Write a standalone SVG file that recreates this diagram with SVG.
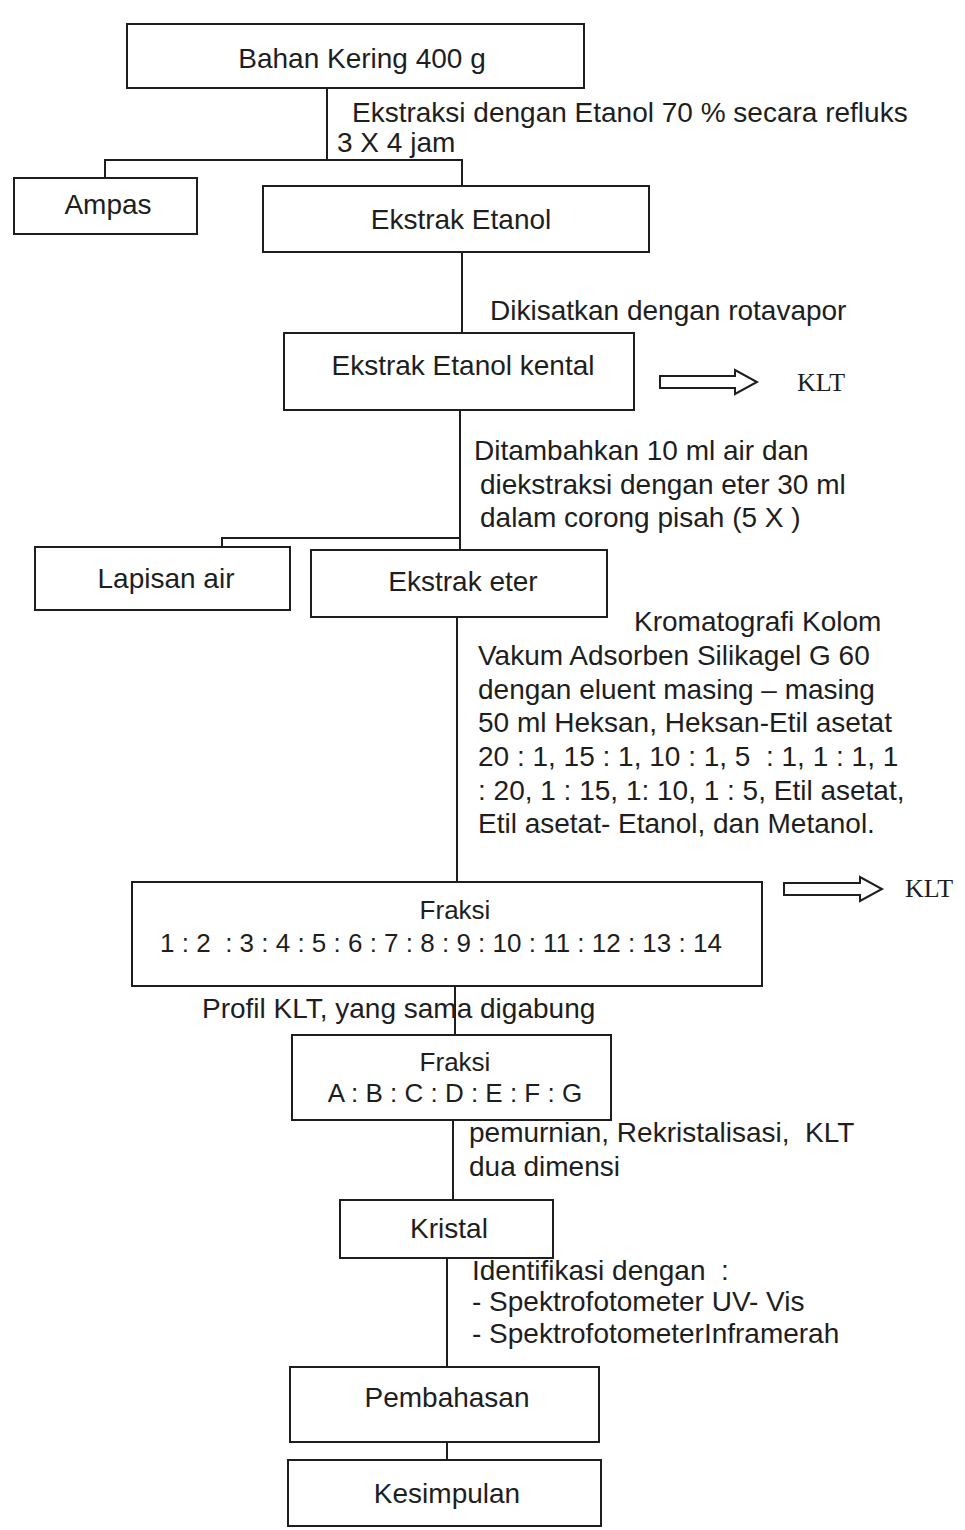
<svg xmlns="http://www.w3.org/2000/svg" width="965" height="1530" viewBox="0 0 965 1530">
<style>
.box{fill:#fff;stroke:#1e1e1e;stroke-width:2}
.ln{fill:none;stroke:#1e1e1e;stroke-width:2}
.arr{fill:#fff;stroke:#1e1e1e;stroke-width:2;stroke-linejoin:miter}
text{font-family:"Liberation Sans",Arial,sans-serif;font-size:28px;fill:#1e1e1e;white-space:pre}
.c{text-anchor:middle}
.s{font-size:26px}
.klt{font-family:"Liberation Serif","Times New Roman",serif;font-size:26px}
</style>
<rect width="965" height="1530" fill="#fff"/>
<g id="connectors">
<polyline class="ln" points="327,88 327,160"/>
<polyline class="ln" points="105,178 105,160 462,160 462,186"/>
<polyline class="ln" points="462,252 462,333"/>
<polyline class="ln" points="460,410 460,550"/>
<polyline class="ln" points="222,547 222,538 460,538"/>
<polyline class="ln" points="457,617 457,882"/>
<polyline class="ln" points="455,986 455,1035"/>
<polyline class="ln" points="453,1120 453,1200"/>
<polyline class="ln" points="447,1258 447,1367"/>
<polyline class="ln" points="447,1442 447,1460"/>
<path class="arr" d="M660,376 L735,376 L735,370 L757,382 L735,394 L735,388 L660,388 Z"/>
<path class="arr" d="M784,883 L860,883 L860,877 L882,889 L860,901 L860,895 L784,895 Z"/>
</g>
<g id="labels">
<text x="352" y="122">Ekstraksi dengan Etanol 70 % secara refluks</text>
<text x="337" y="152">3 X 4 jam</text>
<text x="490" y="320">Dikisatkan dengan rotavapor</text>
<text class="klt" x="797" y="391">KLT</text>
<text x="474" y="460">Ditambahkan 10 ml air dan</text>
<text x="480" y="494">diekstraksi dengan eter 30 ml</text>
<text x="480" y="527">dalam corong pisah (5 X )</text>
<text x="634" y="631">Kromatografi Kolom</text>
<text x="478" y="665">Vakum Adsorben Silikagel G 60</text>
<text x="478" y="699">dengan eluent masing – masing</text>
<text x="478" y="732">50 ml Heksan, Heksan-Etil asetat</text>
<text x="478" y="766" xml:space="preserve">20 : 1, 15 : 1, 10 : 1, 5  : 1, 1 : 1, 1</text>
<text x="478" y="800">: 20, 1 : 15, 1: 10, 1 : 5, Etil asetat,</text>
<text x="478" y="833">Etil asetat- Etanol, dan Metanol.</text>
<text class="klt" x="905" y="897">KLT</text>
<text x="202" y="1018">Profil KLT, yang sama digabung</text>
<text x="469" y="1142" xml:space="preserve">pemurnian, Rekristalisasi,  KLT</text>
<text x="469" y="1176">dua dimensi</text>
<text x="472" y="1280" xml:space="preserve">Identifikasi dengan  :</text>
<text x="472" y="1311">- Spektrofotometer UV- Vis</text>
<text x="472" y="1343">- SpektrofotometerInframerah</text>
</g>
<g id="bahan-kering"><rect class="box" x="127" y="24" width="457" height="64"/><text class="c" x="362" y="68">Bahan Kering 400 g</text></g>
<g id="ampas"><rect class="box" x="14" y="178" width="183" height="56"/><text class="c" x="108" y="214">Ampas</text></g>
<g id="ekstrak-etanol"><rect class="box" x="263" y="186" width="386" height="66"/><text class="c" x="461" y="229">Ekstrak Etanol</text></g>
<g id="ekstrak-etanol-kental"><rect class="box" x="284" y="333" width="350" height="77"/><text class="c" x="463" y="375">Ekstrak Etanol kental</text></g>
<g id="lapisan-air"><rect class="box" x="35" y="547" width="255" height="63"/><text class="c" x="166" y="588">Lapisan air</text></g>
<g id="ekstrak-eter"><rect class="box" x="311" y="550" width="296" height="67"/><text class="c" x="463" y="591">Ekstrak eter</text></g>
<g id="fraksi-1-14"><rect class="box" x="132" y="882" width="630" height="104"/><text class="c s" x="455" y="919">Fraksi</text><text class="c s" x="441" y="952" xml:space="preserve">1 : 2  : 3 : 4 : 5 : 6 : 7 : 8 : 9 : 10 : 11 : 12 : 13 : 14</text></g>
<g id="fraksi-a-g"><rect class="box" x="292" y="1035" width="319" height="85"/><text class="c s" x="455" y="1071">Fraksi</text><text class="c s" x="455" y="1102">A : B : C : D : E : F : G</text></g>
<g id="kristal"><rect class="box" x="340" y="1200" width="213" height="58"/><text class="c" x="449" y="1238">Kristal</text></g>
<g id="pembahasan"><rect class="box" x="290" y="1367" width="309" height="75"/><text class="c" x="447" y="1407">Pembahasan</text></g>
<g id="kesimpulan"><rect class="box" x="288" y="1460" width="313" height="66"/><text class="c" x="447" y="1503">Kesimpulan</text></g>
</svg>
